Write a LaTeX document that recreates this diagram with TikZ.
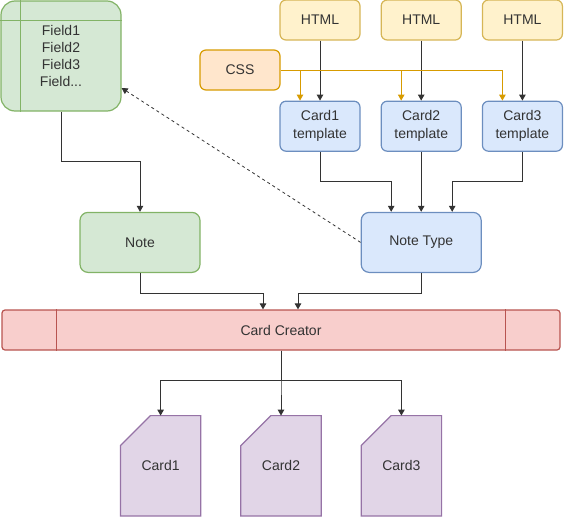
\documentclass[tikz,border=0pt]{standalone}
\usepackage{fontspec}
\setmainfont{Liberation Sans}
\usetikzlibrary{positioning, arrows.meta, backgrounds}

\definecolor{greenfill}{HTML}{D5E8D4}
\definecolor{greenline}{HTML}{82B366}
\definecolor{bluefill}{HTML}{DAE8FC}
\definecolor{blueline}{HTML}{6C8EBF}
\definecolor{yellowfill}{HTML}{FFF2CC}
\definecolor{yellowline}{HTML}{D6B656}
\definecolor{orangefill}{HTML}{FFE6CC}
\definecolor{orangeline}{HTML}{D79B00}
\definecolor{redfill}{HTML}{F8CECC}
\definecolor{redline}{HTML}{B85450}
\definecolor{purplefill}{HTML}{E1D5E7}
\definecolor{purpleline}{HTML}{9673A6}
\definecolor{textgray}{HTML}{333333}

\begin{document}
\begin{tikzpicture}[
x=1pt, y=-1pt,
font=\fontsize{14}{17}\selectfont, text=textgray,
basebox/.style={line width=1.2pt, rounded corners=6pt, minimum width=80pt, minimum height=40pt, inner sep=0pt, align=center},
greenbox/.style={basebox, draw=greenline, fill=greenfill},
bluebox/.style={basebox, draw=blueline, fill=bluefill},
htmlbox/.style={basebox, draw=yellowline, fill=yellowfill},
cssbox/.style={basebox, draw=orangeline, fill=orangefill},
tplbox/.style={bluebox, minimum height=50pt},
bignode/.style={minimum width=120pt, minimum height=60pt, rounded corners=8pt},
cardbox/.style={minimum width=80pt, minimum height=100pt, inner sep=0pt},
conn/.style={draw=textgray, line width=1pt, -{Triangle[width=6.5pt,length=6pt]}},
cssconn/.style={draw=orangeline, line width=1pt, -{Triangle[width=6.5pt,length=6pt]}},
node distance=20pt and 20pt
]
\useasboundingbox (0,0) rectangle (567,522);

%Nodes
\node[greenbox, minimum width=120pt, minimum height=110pt, rounded corners=14pt] (fields) at (61,56) {Field1\\Field2\\Field3\\Field...};
\node[htmlbox] (html1) at (320,20) {HTML};
\node[htmlbox] (html2) [right=of html1] {HTML};
\node[htmlbox] (html3) [right=of html2] {HTML};
\node[cssbox] (css) at (240,70) {CSS};
\node[tplbox] (tpl1) [below=60pt of html1] {Card1\\[1pt]template};
\node[tplbox] (tpl2) [below=60pt of html2] {Card2\\[1pt]template};
\node[tplbox] (tpl3) [below=60pt of html3] {Card3\\[1pt]template};
\node[bluebox, bignode] (ntype) [below=60pt of tpl2] {Note Type};
\node[greenbox, bignode] (note) [left=160pt of ntype] {Note};
\node[basebox, draw=redline, fill=redfill, minimum width=558pt, rounded corners=3pt] (creator) at (281,330) {Card Creator};
\node[cardbox] (card2) [below=65pt of creator] {Card2};
\node[cardbox] (card1) [left=40pt of card2] {Card1};
\node[cardbox] (card3) [right=40pt of card2] {Card3};

% inner lines of the field list and the creator bar
\draw[greenline, line width=1.2pt] ([xshift=20pt]fields.north west) -- ([xshift=20pt]fields.south west);
\draw[greenline, line width=1.2pt] ([yshift=-20pt]fields.north west) -- ([yshift=-20pt]fields.north east);
\draw[redline, line width=1.2pt] ([xshift=55pt]creator.north west) -- ([xshift=55pt]creator.south west);
\draw[redline, line width=1.2pt] ([xshift=-55pt]creator.north east) -- ([xshift=-55pt]creator.south east);

% card outlines
\begin{scope}[on background layer]
\foreach \c in {card1, card2, card3}
  \draw[purpleline, fill=purplefill, line width=1.2pt] ([yshift=-30pt]\c.north west) -- ([xshift=30pt]\c.north west) -- (\c.north east) -- (\c.south east) -- (\c.south west) -- cycle;
\end{scope}

%Connectors
\foreach \i/\j in {html1/tpl1, html2/tpl2, html3/tpl3, tpl2/ntype}
  \draw[conn] (\i) -- (\j);
\draw[orangeline, line width=1pt] (css.east) -- ([xshift=-20pt]tpl3.north |- css.east);
\foreach \t in {tpl1, tpl2, tpl3}
  \draw[cssconn] ([xshift=-20pt]\t.north |- css.east) -- ([xshift=-20pt]\t.north);
\draw[conn] (tpl1.south) -- ++(0,30) -| ([xshift=-30pt]ntype.north);
\draw[conn] (tpl3.south) -- ++(0,30) -| ([xshift=31pt]ntype.north);
\draw[conn] (fields.south) -- ++(0,50) -| (note.north);
\draw[conn] (note.south) -- ++(0,20) -| ([xshift=-18pt]creator.north);
\draw[conn] (ntype.south) -- ++(0,20) -| ([xshift=17pt]creator.north);
\draw[conn, line width=0.8pt, dash pattern=on 3pt off 3pt] (ntype.west) -- ([yshift=-32pt]fields.east);
\foreach \c in {card1, card2, card3}
  \draw[conn] (creator.south) -- ++(0,30) -| (\c.north);
\end{tikzpicture}
\end{document}
